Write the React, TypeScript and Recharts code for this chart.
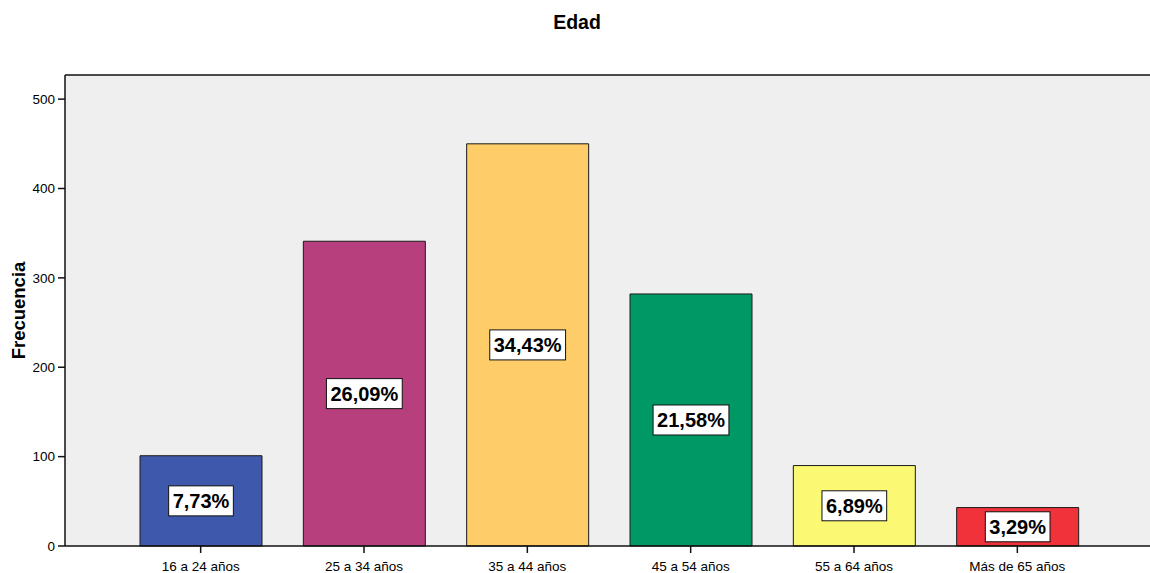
import React from 'react';
import { BarChart, Bar, XAxis, YAxis, Cell, LabelList, CartesianGrid, ReferenceLine } from 'recharts';

// Frecuencias por grupo de edad (N = 1307)
const categories = ['16 a 24 años', '25 a 34 años', '35 a 44 años', '45 a 54 años', '55 a 64 años', 'Más de 65 años'];
const frequencies = [101, 341, 450, 282, 90, 43];
const barColors = ['#3E58AC', '#B83F7D', '#FFCC6A', '#009966', '#FBF873', '#F0323A'];
const yTicks = [0, 100, 200, 300, 400, 500];
const yMax = 527;

const total = frequencies.reduce((a, b) => a + b, 0);

const data = categories.map((name, i) => ({
  name,
  freq: frequencies[i],
  pct: ((frequencies[i] / total) * 100).toFixed(2).replace('.', ',') + '%',
}));

const FONT = '"Liberation Sans", Arial, sans-serif';

// ancho aproximado del texto en negrita (métricas de Arial)
const boldWidth = (s: string, size: number) => {
  let w = 0;
  for (const ch of s) {
    if (ch === ',' || ch === '.') w += 0.278;
    else if (ch === '%') w += 0.889;
    else w += 0.556;
  }
  return w * size;
};

const PercentBox = (props: any) => {
  const { x, y, width, height, value } = props;
  const cx = x + width / 2;
  const cy = y + height / 2;
  const w = boldWidth(String(value), 20) + 8;
  return (
    <g>
      <rect x={cx - w / 2} y={cy - 15} width={w} height={30} fill="#FFFFFF" stroke="#111" strokeWidth={1} />
      <text x={cx} y={cy} dy="0.35em" textAnchor="middle" fontSize={20} fontWeight="bold" fill="#000" fontFamily={FONT}>
        {value}
      </text>
    </g>
  );
};

const YLabel = (props: any) => {
  const { viewBox } = props;
  const x = viewBox.x + 18.5;
  const y = viewBox.y + viewBox.height / 2;
  return (
    <text x={x} y={y} transform={`rotate(-90 ${x} ${y})`} dy="0.35em" textAnchor="middle" fontSize={18.5} fontWeight="bold" fill="#000" fontFamily={FONT}>
      Frecuencia
    </text>
  );
};

export default function App() {
  return (
    <div style={{ position: 'fixed', top: 0, left: 0, width: 1150, height: 573, overflow: 'hidden', background: '#fff', fontFamily: FONT }}>
      <div style={{ position: 'absolute', top: 12, left: 0, width: 1154, textAlign: 'center', fontSize: 19.5, lineHeight: '20px', fontWeight: 'bold', color: '#000', zIndex: 1 }}>
        Edad
      </div>
      {/* el SVG se extiende más allá del recorte para que el marco derecho no se vea */}
      <BarChart width={1170} height={600} data={data} margin={{ top: 75, right: 0, bottom: 27, left: 0 }}>
        <CartesianGrid horizontal={false} vertical={false} fill="#EFEFEF" />
        <XAxis
          dataKey="name"
          height={27}
          padding={{ left: 54, right: 71 }}
          tickSize={7}
          tickMargin={8}
          fontSize={13.5}
          tick={{ fontSize: 13.5, fill: '#000', fontFamily: FONT }}
          axisLine={{ stroke: '#111', strokeWidth: 1.5 }}
          tickLine={{ stroke: '#111', strokeWidth: 1.5 }}
        />
        <YAxis
          width={65}
          domain={[0, yMax]}
          ticks={yTicks}
          tickSize={7}
          tickMargin={3}
          fontSize={13.5}
          tick={{ fontSize: 13.5, fill: '#000', fontFamily: FONT }}
          axisLine={{ stroke: '#111', strokeWidth: 1.5 }}
          tickLine={{ stroke: '#111', strokeWidth: 1.5 }}
          label={<YLabel />}
        />
        <ReferenceLine y={yMax} stroke="#111" strokeWidth={1.5} />
        <Bar dataKey="freq" barSize={122} stroke="#1A1A1A" strokeWidth={1} isAnimationActive={false}>
          {data.map((d, i) => (
            <Cell key={d.name} fill={barColors[i]} />
          ))}
          <LabelList dataKey="pct" content={PercentBox} />
        </Bar>
      </BarChart>
    </div>
  );
}
